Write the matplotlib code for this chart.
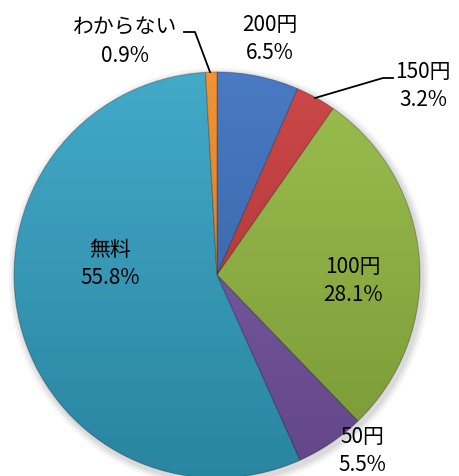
import numpy as np
import matplotlib.pyplot as plt
from matplotlib.patches import Circle

plt.rcParams['font.family'] = ['Noto Sans CJK JP', 'DejaVu Sans']

labels = ['200円', '150円', '100円', '50円', '無料', 'わからない']
shares = [6.5, 3.2, 28.1, 5.5, 55.8, 0.9]
colors = ['#3a6fbe', '#c8393a', '#93b941', '#7856a6', '#33a2c3', '#f08a24']

W, H = 460, 477
cx, cy, r = 217, 276, 203

fig = plt.figure(figsize=(W / 100, H / 100), dpi=100)
ax = fig.add_axes([0, 0, 1, 1])

# soft shadow round the pie
for k, a in enumerate([0.04, 0.05, 0.06]):
    ax.add_patch(Circle((0.01, -0.015), 1.0 + 0.012 * (3 - k), color='black',
                        alpha=a, zorder=0, lw=0))

wedges, _ = ax.pie(shares, colors=colors, startangle=90, counterclock=False,
                   radius=1.0, center=(0, 0), frame=True,
                   wedgeprops=dict(edgecolor=(0, 0, 0, 0.25), linewidth=0.8))

# vertical shading, lighter at the top and darker at the bottom
top = np.linspace(1, 0, 256).reshape(-1, 1)
dark = np.zeros((256, 1, 4))
dark[..., 3] = (1 - top) * 0.18
light = np.ones((256, 1, 4))
light[..., 3] = top * 0.08
for layer in (dark, light):
    img = ax.imshow(layer, extent=(-1, 1, -1, 1), origin='upper', zorder=3,
                    interpolation='bilinear')
    img.set_clip_path(Circle((0, 0), 1.0, transform=ax.transData))

ax.set_xlim(-cx / r, (W - cx) / r)
ax.set_ylim(-(H - cy) / r, cy / r)
ax.set_aspect('equal')
ax.axis('off')


def px(x, y):
    return (x - cx) / r, (cy - y) / r


label_pos = {
    '200円': (270, 25),
    '150円': (423, 72),
    '100円': (353, 267),
    '50円': (362, 437),
    '無料': (110, 250),
    'わからない': (125, 28),
}
for name, val in zip(labels, shares):
    x, y = label_pos[name]
    ax.text(*px(x, y), name, ha='center', va='center', fontsize=15, zorder=5)
    ax.text(*px(x, y + 28), f'{val}%', ha='center', va='center', fontsize=15,
            zorder=5)

# leader lines for the thin slices
for pts in ([(184, 33), (195, 33), (210, 73)],
            [(393, 79), (383, 79), (315, 99)]):
    xs, ys = zip(*[px(*p) for p in pts])
    ax.plot(xs, ys, color='black', lw=1.3, zorder=5)

fig.savefig('out.png', dpi=100)
